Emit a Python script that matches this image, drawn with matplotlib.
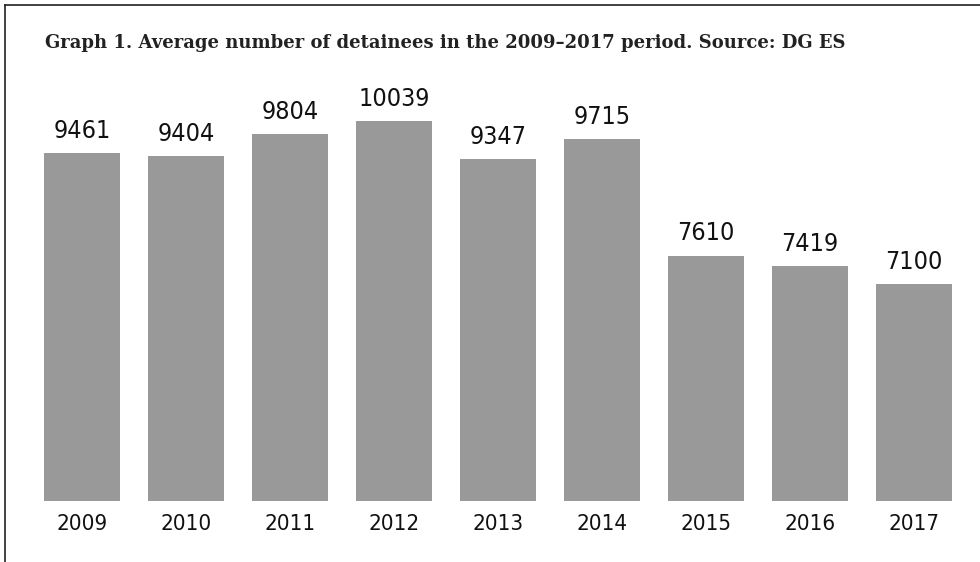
import matplotlib.pyplot as plt
from matplotlib.lines import Line2D

# --- Data ---
years = ['2009', '2010', '2011', '2012', '2013', '2014', '2015', '2016', '2017']
detainees = [9461, 9404, 9804, 10039, 9347, 9715, 7610, 7419, 7100]
title = 'Graph 1. Average number of detainees in the 2009\u20132017 period. Source: DG ES'

fig = plt.figure(figsize=(9.8, 5.62), dpi=100)
W, H = 980, 562

# frame: top and left line only
fig.add_artist(Line2D([5 / W, 1], [1 - 5 / H, 1 - 5 / H], color='#222222', lw=1.2))
fig.add_artist(Line2D([5 / W, 5 / W], [0, 1 - 5 / H], color='#222222', lw=1.2))

fig.text(45 / W, 1 - 48 / H, title, fontsize=13, fontweight='bold',
         family='DejaVu Serif', color='#222222', va='baseline', ha='left')

ax = fig.add_axes([30 / W, 1 - 501 / H, 936 / W, 401 / H])
x = range(len(years))
ax.bar(x, detainees, width=0.73, color='#999999')
ax.set_xlim(-0.5, len(years) - 0.5)
ax.set_ylim(3187, 10417)

for xi, v in zip(x, detainees):
    ax.annotate(str(v), (xi, v), xytext=(0, 11), textcoords='offset points',
                ha='center', va='baseline', fontsize=18, family='DejaVu Sans',
                fontstretch='condensed', color='#111111')

ax.set_xticks(list(x))
ax.set_xticklabels(years, fontsize=16, family='DejaVu Sans',
                   fontstretch='condensed', color='#111111')
ax.tick_params(axis='x', length=0, pad=9)
ax.set_yticks([])
for s in ax.spines.values():
    s.set_visible(False)

fig.savefig('out.png', dpi=100)
